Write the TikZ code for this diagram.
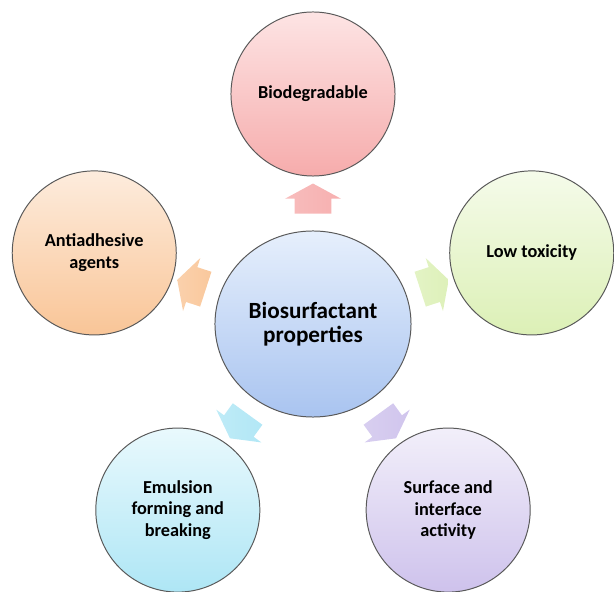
\documentclass[tikz,border=0pt]{standalone}
\usepackage{fontspec}
\setmainfont{Carlito}
\usetikzlibrary{shapes.arrows,shapes.geometric}

% light tone at the top, full tone at the bottom
\definecolor{blueT}{HTML}{E6EFFC}
\definecolor{blueB}{HTML}{A9C4F0}
\definecolor{pinkT}{HTML}{FDE4E4}
\definecolor{pinkB}{HTML}{F6ACAC}
\definecolor{greenT}{HTML}{F5FBEA}
\definecolor{greenB}{HTML}{DCF0B6}
\definecolor{purpleT}{HTML}{F2EFFA}
\definecolor{purpleB}{HTML}{CEC2EC}
\definecolor{cyanT}{HTML}{E9F9FD}
\definecolor{cyanB}{HTML}{AEE6F5}
\definecolor{orangeT}{HTML}{FDECDD}
\definecolor{orangeB}{HTML}{F9C597}

\begin{document}
\begin{tikzpicture}[x=0.025cm,y=0.025cm,
	prop/.style={circle,draw=black!65,line width=0.7pt,minimum size=4.1cm,align=center,
		font=\fontsize{13}{15.5}\selectfont\bfseries},
	blockarrow/.style={single arrow,draw=none,inner xsep=0pt,inner ysep=0.45cm,minimum height=0.75cm,
		single arrow head extend=0.24cm,single arrow tip angle=123,
		sloped,allow upside down,pos=0.5}]
	
	\useasboundingbox (-313,-268) rectangle (301,324);
	
	\node[ellipse,draw=black!65,line width=0.7pt,minimum width=4.9cm,minimum height=4.65cm,
		top color=blueT,bottom color=blueB,align=center,
		font=\fontsize{16.5}{17.5}\selectfont\bfseries] (bio) at (0,0) {Biosurfactant\\properties};
	
	\foreach \a/\n/\c/\t in {90/degr/pink/{Biodegradable},
		18/tox/green/{Low toxicity},
		306/surf/purple/{Surface and\\interface\\activity},
		234/emul/cyan/{Emulsion\\forming and\\breaking},
		162/anti/orange/{Antiadhesive\\agents}}
	{
		\node[prop,top color=\c T,bottom color=\c B] (\n) at (\a:230) {\t};
		\path (bio) -- node[blockarrow,left color=\c B!80!white,right color=\c B!95] {} (\n);
	}
\end{tikzpicture}
\end{document}
